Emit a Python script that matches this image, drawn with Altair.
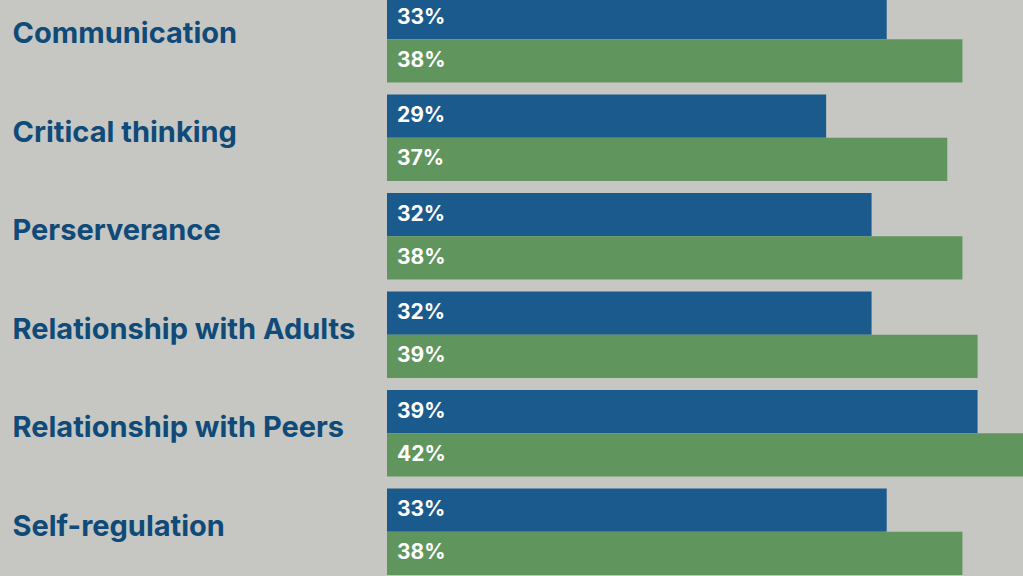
import altair as alt
import pandas as pd

skills = ["Communication", "Critical thinking", "Perserverance",
          "Relationship with Adults", "Relationship with Peers", "Self-regulation"]
series_a = [33, 29, 32, 32, 39, 33]   # blue bars
series_b = [38, 37, 38, 39, 42, 38]   # green bars
series_names = ["A", "B"]

rows = []
for s, a, b in zip(skills, series_a, series_b):
    rows.append({"skill": s, "series": "A", "value": a, "label": f"{a}%"})
    rows.append({"skill": s, "series": "B", "value": b, "label": f"{b}%"})
df = pd.DataFrame(rows)

BG = "#c6c6c2"
y_enc = alt.Y("skill:N", sort=skills,
              scale=alt.Scale(paddingInner=0.12, paddingOuter=0.06),
              axis=alt.Axis(title=None, domain=False, ticks=False, tickSize=0,
                            labelAlign="left", labelPadding=375, labelBaseline="middle",
                            labelOffset=-5,
                            labelFont="Inter", labelFontWeight="bold",
                            labelFontSize=29, labelColor="#0f4a78", labelLimit=400))
yoff = alt.YOffset("series:N", sort=series_names)

base = alt.Chart(df)
bars = base.mark_bar().encode(
    y=y_enc,
    yOffset=yoff,
    x=alt.X("value:Q", scale=alt.Scale(domain=[0, 42], nice=False, zero=True), axis=None),
    color=alt.Color("series:N", scale=alt.Scale(domain=series_names, range=["#1b5a8c", "#60955e"]),
                    legend=None),
)
labels = base.mark_text(align="left", baseline="middle", font="Inter", fontWeight="bold",
                        fontSize=21, color="white").encode(
    y=alt.Y("skill:N", sort=skills),
    yOffset=yoff,
    x=alt.value(10),
    text="label:N",
)

chart = alt.layer(bars, labels).properties(
    width=636, height=591,
    autosize=alt.AutoSizeParams(type="none"),
    padding={"left": 387, "top": -10, "right": 0, "bottom": 0},
    background=BG,
).configure_view(stroke=None, fill=BG)

chart.save("out.html", embed_options={"renderer": "svg", "actions": False})
